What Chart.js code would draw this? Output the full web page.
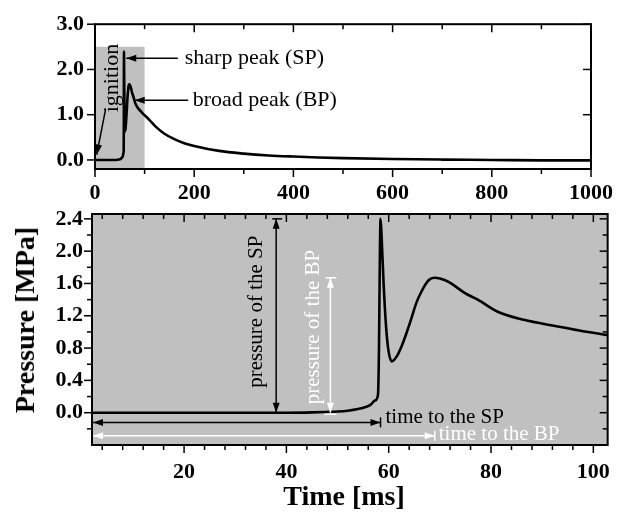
<!DOCTYPE html>
<html>
<head>
<meta charset="utf-8">
<script src="https://cdn.jsdelivr.net/npm/chart.js@4.4.0/dist/chart.umd.min.js"></script>
<style>
  html, body { margin: 0; padding: 0; background: #fff; }
  #wrap { position: relative; width: 624px; height: 514px; overflow: hidden; }
  #cvTop { position: absolute; left: 0; top: 0; }
  #cvZoom { position: absolute; left: 0; top: 190px; }
  .axisTitle { position: absolute; font: bold 28px "Liberation Serif", serif; color: #000; white-space: nowrap; }
  #yTitle { left: 25px; top: 320px; transform: translate(-50%, -50%) rotate(-90deg); }
  #xTitle { left: 344px; top: 496px; transform: translate(-50%, -50%); }
</style>
</head>
<body>
<div id="wrap">
  <canvas id="cvTop" width="624" height="205"></canvas>
  <canvas id="cvZoom" width="624" height="324"></canvas>
  <div id="yTitle" class="axisTitle">Pressure [MPa]</div>
  <div id="xTitle" class="axisTitle">Time [ms]</div>
</div>
<script>
// pressure record, first 103 ms (ignition, sharp peak, broad peak)
var timeMs      = [0, 10, 20, 30, 40, 45, 48, 50, 52, 54, 55.5, 56.5, 57.3, 57.9, 58.1, 58.25, 58.4, 58.6, 59.0, 59.5, 60.0, 60.6, 61.6, 62.5, 63.5, 64.5, 65.4, 66.4, 67.3, 68.0, 69.0, 70.0, 71.7, 74.9, 77.4, 81.3, 86.4, 92.8, 97, 102.8];
var pressureMPa = [0, 0, 0, 0, 0, 0.004, 0.01, 0.015, 0.025, 0.045, 0.07, 0.1, 0.15, 0.22, 0.8, 1.8, 2.40, 2.2, 1.6, 1.05, 0.75, 0.635, 0.70, 0.82, 0.99, 1.18, 1.36, 1.5, 1.6, 1.65, 1.67, 1.66, 1.62, 1.48, 1.40, 1.25, 1.15, 1.07, 1.02, 0.96];
// decay after 103 ms
var tailTimeMs      = [110, 124, 140, 160, 180, 200, 250, 300, 350, 400, 450, 500, 600, 700, 800, 900, 1000];
var tailPressureMPa = [0.88, 0.72, 0.58, 0.46, 0.37, 0.31, 0.2, 0.14, 0.1, 0.075, 0.055, 0.04, 0.02, 0.008, 0, -0.01, -0.01];

// tick values
var topXLabels  = [0, 200, 400, 600, 800, 1000];
var topXMinor   = [100, 300, 500, 700, 900];
var topYLabels  = [0, 1, 2, 3];
var zoomXLabels = [20, 40, 60, 80, 100];
var zoomXMinor  = [4, 8, 12, 16, 24, 28, 32, 36, 44, 48, 52, 56, 64, 68, 72, 76, 84, 88, 92, 96];
var zoomYLabels = [0, 0.4, 0.8, 1.2, 1.6, 2.0, 2.4];
var zoomYMinor  = [-0.2, 0.2, 0.6, 1.0, 1.4, 1.8, 2.2];

// peaks
var spTime = 58.4, spPressure = 2.40;
var bpTime = 69.0, bpPressure = 1.67;

var GRAY = '#c0c0c0';
var SERIF = '"Liberation Serif", "Times New Roman", serif';

function pts(xs, ys){ return xs.map(function(v,i){ return {x:v, y:ys[i]}; }); }

function head(ctx, x, y, ang){
  var L = 10, H = 3.5;
  ctx.beginPath();
  ctx.moveTo(x, y);
  ctx.lineTo(x - L*Math.cos(ang) + H*Math.sin(ang), y - L*Math.sin(ang) - H*Math.cos(ang));
  ctx.lineTo(x - L*Math.cos(ang) - H*Math.sin(ang), y - L*Math.sin(ang) + H*Math.cos(ang));
  ctx.closePath();
  ctx.fill();
}
function arrow(ctx, x1, y1, x2, y2, both){
  var ang = Math.atan2(y2-y1, x2-x1);
  ctx.beginPath(); ctx.moveTo(x1, y1); ctx.lineTo(x2, y2); ctx.stroke();
  head(ctx, x2, y2, ang);
  if (both) head(ctx, x1, y1, ang + Math.PI);
}
function line(ctx, x1, y1, x2, y2){
  ctx.beginPath(); ctx.moveTo(x1, y1); ctx.lineTo(x2, y2); ctx.stroke();
}
function vtext(ctx, str, x, y){
  ctx.save(); ctx.translate(x, y); ctx.rotate(-Math.PI/2);
  ctx.textAlign = 'center'; ctx.textBaseline = 'middle';
  ctx.fillText(str, 0, 0); ctx.restore();
}

// box around the plot + Origin style ticks (out on left/bottom, in on top/right)
var frameTicks = {
  id: 'frameTicks',
  afterDatasetsDraw: function(chart, args, o){
    var ctx = chart.ctx, a = chart.chartArea, x = chart.scales.x, y = chart.scales.y;
    ctx.save();
    ctx.strokeStyle = '#000';
    ctx.lineWidth = 1.5;
    function xt(v, len){
      var p = x.getPixelForValue(v);
      line(ctx, p, a.bottom, p, a.bottom + len);
      line(ctx, p, a.top, p, a.top + len);
    }
    function yt(v, len){
      var p = y.getPixelForValue(v);
      line(ctx, a.left - len, p, a.left, p);
      line(ctx, a.right - len, p, a.right, p);
    }
    o.xMajor.forEach(function(v){ xt(v, 8); });
    o.xMinor.forEach(function(v){ xt(v, 5); });
    o.yMajor.forEach(function(v){ yt(v, 8); });
    o.yMinor.forEach(function(v){ yt(v, 5); });
    ctx.lineWidth = 2;
    ctx.strokeRect(a.left, a.top, a.right - a.left, a.bottom - a.top);
    ctx.restore();
  }
};

function fixedTicks(list){
  return function(scale){ scale.ticks = list.map(function(v){ return {value: v}; }); };
}

function axes(xMin, xMax, xLab, yMin, yMax, yLab, yW, xH, xPad, yPad){
  return {
    x: {
      type: 'linear', min: xMin, max: xMax,
      afterBuildTicks: fixedTicks(xLab),
      afterFit: function(s){ s.height = xH; },
      grid: {display: false, drawTicks: false}, border: {display: false},
      ticks: {color: '#000', font: {family: SERIF, size: 22, weight: 'bold'}, padding: xPad,
              maxRotation: 0, autoSkip: false,
              callback: function(v){ return String(v); }}
    },
    y: {
      type: 'linear', min: yMin, max: yMax,
      afterBuildTicks: fixedTicks(yLab),
      afterFit: function(s){ s.width = yW; },
      grid: {display: false, drawTicks: false}, border: {display: false},
      ticks: {color: '#000', font: {family: SERIF, size: 22, weight: 'bold'}, padding: yPad,
              callback: function(v){ return Number(v).toFixed(1); }}
    }
  };
}

var curveStyle = {borderColor: '#000', borderWidth: 2.6, pointRadius: 0, fill: false,
                  cubicInterpolationMode: 'monotone'};

// ---------- full record 0 - 1000 ms ----------
var topNotes = {
  id: 'topNotes',
  beforeDatasetsDraw: function(chart){
    var ctx = chart.ctx, x = chart.scales.x, y = chart.scales.y;
    var x0 = x.getPixelForValue(0), x1 = x.getPixelForValue(100);
    var y0 = y.getPixelForValue(-0.2), y1 = y.getPixelForValue(2.5);
    ctx.save();
    ctx.fillStyle = GRAY;
    ctx.fillRect(x0, y1, x1 - x0, y0 - y1);
    ctx.restore();
  },
  afterDatasetsDraw: function(chart){
    var ctx = chart.ctx, x = chart.scales.x, y = chart.scales.y;
    function X(v){ return x.getPixelForValue(v); }
    function Y(v){ return y.getPixelForValue(v); }
    ctx.save();
    ctx.fillStyle = '#000'; ctx.strokeStyle = '#000'; ctx.lineWidth = 1.5;
    ctx.font = '22px ' + SERIF;
    vtext(ctx, 'ignition', X(35), Y(1.81));
    arrow(ctx, X(21), Y(1.1), X(3.5), Y(0.12));
    arrow(ctx, X(167), Y(2.25), X(63), Y(2.25));
    arrow(ctx, X(188), Y(1.32), X(80), Y(1.32));
    ctx.textAlign = 'left'; ctx.textBaseline = 'middle';
    ctx.fillText('sharp peak (SP)', X(181), Y(2.25));
    ctx.fillText('broad peak (BP)', X(197), Y(1.32));
    ctx.restore();
  }
};

new Chart(document.getElementById('cvTop'), {
  type: 'line',
  data: {datasets: [Object.assign({data: pts(timeMs.concat(tailTimeMs), pressureMPa.concat(tailPressureMPa))}, curveStyle)]},
  options: {
    responsive: false, animation: false, events: [],
    layout: {padding: {top: 18, right: 31, left: 0, bottom: 0}},
    plugins: {legend: {display: false}, tooltip: {enabled: false},
              frameTicks: {xMajor: topXLabels, xMinor: topXMinor, yMajor: topYLabels, yMinor: []}},
    scales: axes(0, 1000, topXLabels, -0.2, 3.0, topYLabels, 95, 36, 11, 11)
  },
  plugins: [topNotes, frameTicks]
});

// ---------- first 100 ms ----------
var zoomNotes = {
  id: 'zoomNotes',
  beforeDraw: function(chart){
    var ctx = chart.ctx, a = chart.chartArea;
    ctx.save();
    ctx.fillStyle = GRAY;
    ctx.fillRect(a.left, a.top, a.right - a.left, a.bottom - a.top);
    ctx.restore();
  },
  afterDatasetsDraw: function(chart){
    var ctx = chart.ctx, a = chart.chartArea, x = chart.scales.x, y = chart.scales.y;
    function X(v){ return x.getPixelForValue(v); }
    function Y(v){ return y.getPixelForValue(v); }
    ctx.save();
    ctx.lineWidth = 1.5;
    ctx.font = '21px ' + SERIF;

    // pressure of the SP
    ctx.fillStyle = '#000'; ctx.strokeStyle = '#000';
    var sx = X(38);
    arrow(ctx, sx, Y(0), sx, Y(spPressure), true);
    line(ctx, sx - 4, Y(spPressure), sx + 6, Y(spPressure));
    vtext(ctx, 'pressure of the SP', X(34.2), Y(1.25));

    // time to the SP
    var ty = Y(-0.12);
    arrow(ctx, X(spTime), ty, a.left + 1, ty, true);
    line(ctx, X(spTime), ty - 5, X(spTime), ty + 5);
    ctx.textAlign = 'left'; ctx.textBaseline = 'alphabetic';
    ctx.fillText('time to the SP', X(spTime) + 5, ty + 1);

    // pressure of the BP
    ctx.fillStyle = '#fff'; ctx.strokeStyle = '#fff';
    var bx = X(48.6);
    arrow(ctx, bx, Y(0), bx, Y(bpPressure), true);
    line(ctx, bx - 5, Y(bpPressure), bx + 6, Y(bpPressure));
    line(ctx, bx - 6, Y(-0.02), bx + 6, Y(-0.02));
    vtext(ctx, 'pressure of the BP', X(45.3), Y(1.06));

    // time to the BP
    var by = Y(-0.285);
    arrow(ctx, X(bpTime), by, a.left + 1, by, true);
    line(ctx, X(bpTime), by - 5, X(bpTime), by + 5);
    ctx.textAlign = 'left'; ctx.textBaseline = 'alphabetic';
    ctx.fillText('time to the BP', X(bpTime) + 4, by + 4);
    ctx.restore();
  }
};

new Chart(document.getElementById('cvZoom'), {
  type: 'line',
  data: {datasets: [Object.assign({data: pts(timeMs, pressureMPa)}, curveStyle)]},
  options: {
    responsive: false, animation: false, events: [],
    layout: {padding: {top: 24, right: 6, left: 0, bottom: 0}},
    plugins: {legend: {display: false}, tooltip: {enabled: false},
              frameTicks: {xMajor: zoomXLabels, xMinor: zoomXMinor, yMajor: zoomYLabels, yMinor: zoomYMinor}},
    scales: axes(2, 102.8, zoomXLabels, -0.4, 2.46, zoomYLabels, 92, 69, 14, 9)
  },
  plugins: [zoomNotes, frameTicks]
});
</script>
</body>
</html>
